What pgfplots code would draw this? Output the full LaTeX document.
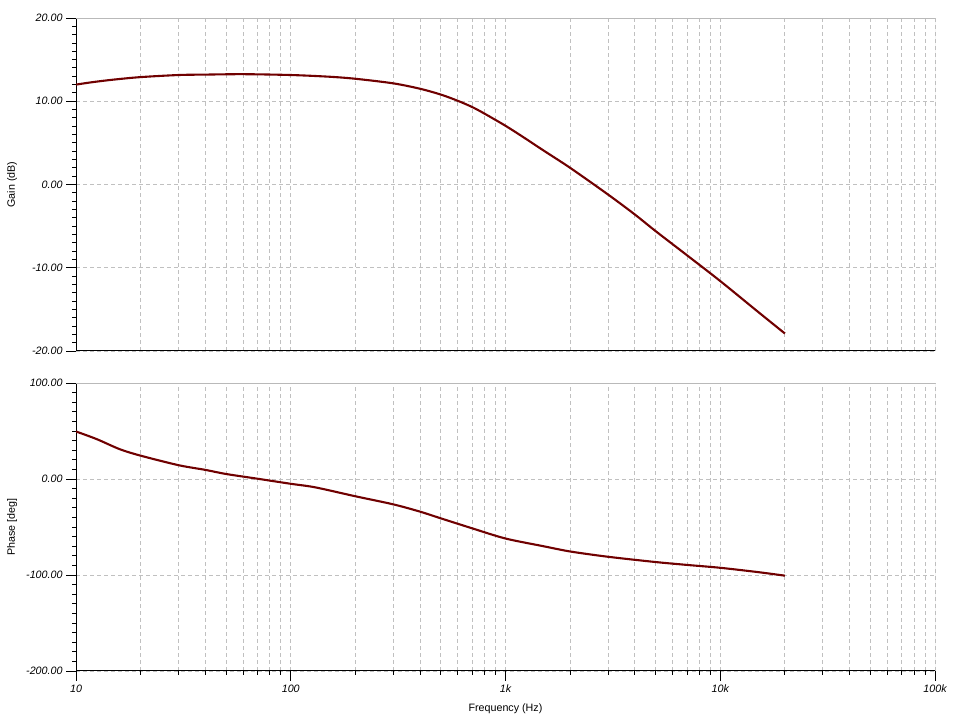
\documentclass[border=0pt]{standalone}
\usepackage{fontspec}
\setmainfont{Liberation Sans}
\usepackage{pgfplots}
\pgfplotsset{compat=1.18}

\definecolor{curve}{RGB}{112,0,0}
\definecolor{gridgray}{RGB}{192,192,192}
\definecolor{boxgray}{RGB}{185,185,185}

\pgfplotsset{
  every axis/.append style={
    scale only axis,
    axis lines=left,
    axis line style={-, black, line width=1pt},
    tick align=outside,
    major tick length=10pt,
    minor tick length=4pt,
    tick style={black, line width=0.9pt},
    ticklabel style={font=\fontsize{10.7}{12}\selectfont\itshape},
    label style={font=\fontsize{10.7}{12}\selectfont},
    xmajorgrids, xminorgrids, ymajorgrids,
    major grid style={gridgray, dash pattern=on 4pt off 3pt, line width=0.9pt},
    minor grid style={gridgray, dash pattern=on 4pt off 3pt, line width=0.9pt},
  },
}

\begin{document}
\begin{tikzpicture}
\useasboundingbox (0,0) rectangle (957pt,727pt);

% gain
\begin{axis}[width=859pt, height=333pt, at={(76pt,376pt)}, anchor=south west,
    xmode=log, xmin=10, xmax=100000,
    xtick={10,100,1000,10000,100000},
    minor xtick={20,30,40,50,60,70,80,90,200,300,400,500,600,700,800,900,
      2000,3000,4000,5000,6000,7000,8000,9000,20000,30000,40000,50000,60000,70000,80000,90000},
    xticklabels={},
    x tick style={draw=none},
    ymin=-20, ymax=20, ytick={-20,-10,0,10,20},
    yticklabels={-20.00,-10.00,0.00,10.00,20.00},
    minor y tick num=9,
    ylabel={Gain (dB)},
    ylabel style={at={(axis description cs:-0.0745,0.5)}, anchor=center}]
\draw[boxgray, line width=0.9pt] (rel axis cs:0,1) -- (rel axis cs:1,1) -- (rel axis cs:1,0);
\addplot[curve, line width=2.1pt, smooth] coordinates {
(10,12.0)(12,12.3)(15,12.6)(20,12.9)(30,13.15)(40,13.2)(60,13.25)(100,13.15)
(150,12.95)(200,12.7)(300,12.15)(400,11.5)(500,10.8)(600,10.05)(700,9.3)
(800,8.5)(1000,7.05)(1200,5.75)(1500,4.1)(2000,2.0)(3000,-1.2)(4000,-3.6)
(5000,-5.6)(7000,-8.5)(10000,-11.6)(15000,-15.3)(20000,-17.9)};
\end{axis}

% phase
\begin{axis}[width=859pt, height=288pt, at={(76pt,56pt)}, anchor=south west,
    xmode=log, xmin=10, xmax=100000,
    xtick={10,100,1000,10000,100000},
    minor xtick={20,30,40,50,60,70,80,90,200,300,400,500,600,700,800,900,
      2000,3000,4000,5000,6000,7000,8000,9000,20000,30000,40000,50000,60000,70000,80000,90000},
    xticklabels={10,100,1k,10k,100k},
    ymin=-200, ymax=100, ytick={-200,-100,0,100},
    yticklabels={-200.00,-100.00,0.00,100.00},
    minor y tick num=9,
    xlabel={Frequency (Hz)},
    xlabel style={at={(axis description cs:0.5,-0.132)}, anchor=center},
    ylabel={Phase [deg]},
    ylabel style={at={(axis description cs:-0.0745,0.5)}, anchor=center}]
\draw[boxgray, line width=0.9pt] (rel axis cs:0,1) -- (rel axis cs:1,1) -- (rel axis cs:1,0);
\addplot[curve, line width=2.1pt, smooth] coordinates {
(10,49.5)(12.5,41.5)(16,31)(20,24.3)(30,14.4)(40,9.5)(50,5.2)(70,0.3)(100,-5)
(130,-8.7)(200,-18)(300,-26.4)(400,-34)(500,-41)(700,-51.4)(1000,-62)
(1500,-70)(2000,-75.5)(3000,-81)(5000,-86.5)(7000,-89.5)(10000,-92.5)
(15000,-97)(20000,-100.7)};
\end{axis}
\end{tikzpicture}
\end{document}
